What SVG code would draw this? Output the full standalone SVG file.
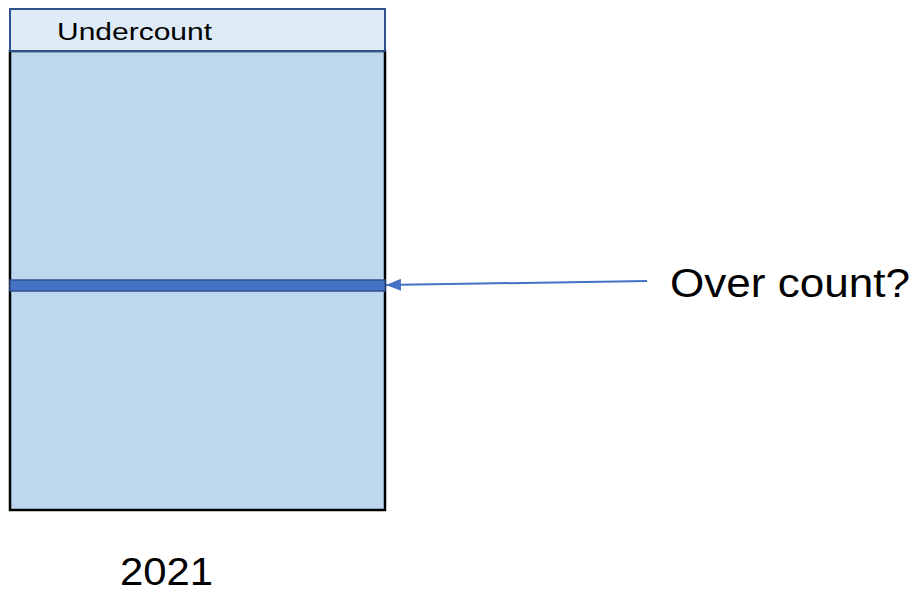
<svg xmlns="http://www.w3.org/2000/svg" width="917" height="593" viewBox="0 0 917 593">
<style>
text{font-family:"Liberation Sans","DejaVu Sans",sans-serif;fill:#000}
</style>
<defs>
<marker id="ah" markerWidth="15" markerHeight="12" refX="15" refY="6" orient="auto" markerUnits="userSpaceOnUse">
<path d="M0,0 L15,6 L0,12 Z" fill="#4472C4"/>
</marker>
</defs>
<rect width="917" height="593" fill="#fff"/>
<g id="main-bar">
<rect x="10" y="51" width="375" height="459" fill="#BDD7EE" stroke="#000" stroke-width="2.5"/>
</g>
<g id="undercount">
<rect x="10" y="9" width="375" height="42" fill="#DEEBF7" stroke="#2F528F" stroke-width="2"/>
<text x="57" y="40" font-size="23" textLength="155" lengthAdjust="spacingAndGlyphs">Undercount</text>
</g>
<g id="band">
<rect x="10" y="280" width="375" height="11" fill="#4472C4" stroke="#2F528F" stroke-width="1.5"/>
</g>
<g id="connectors">
<line x1="647" y1="281" x2="386" y2="285" stroke="#4472C4" stroke-width="2" marker-end="url(#ah)"/>
</g>
<g id="overcount-label">
<text x="670" y="297" font-size="40" textLength="240" lengthAdjust="spacingAndGlyphs">Over count?</text>
</g>
<g id="year">
<text x="120" y="585" font-size="39" textLength="93" lengthAdjust="spacingAndGlyphs">2021</text>
</g>
</svg>
